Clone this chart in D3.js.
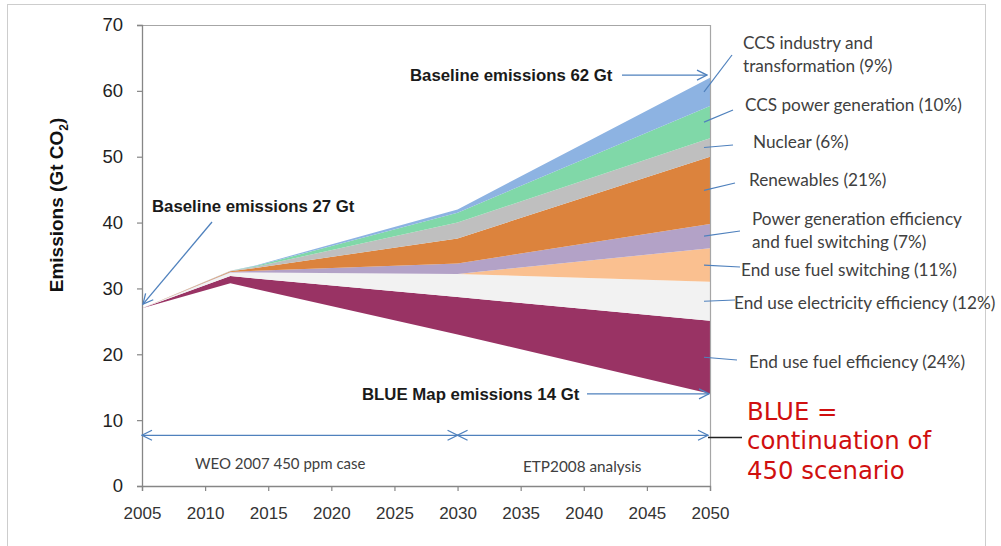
<!DOCTYPE html>
<html>
<head>
<meta charset="utf-8">
<script src="https://cdn.jsdelivr.net/npm/d3@7"></script>
<style>
  html, body { margin: 0; padding: 0; background: #ffffff; }
  svg { display: block; }
</style>
</head>
<body>
<svg id="chart" width="1001" height="546"></svg>
<script>
// ---- data (Gt CO2) ----
const years = [2005, 2012, 2014, 2030, 2050];
// remaining emissions under BLUE Map (base of the stack, not filled)
const blueMap = [27.0, 30.8, 29.9, 23.0, 14.0];
// reductions by measure, stacked above BLUE Map
const endUseFuelEff   = [0, 1.1, 1.6, 5.7, 11.1];
const endUseElecEff   = [0, 0.5, 0.9, 3.5, 5.9];
const endUseFuelSw    = [0, 0.0, 0.0, 0.0, 5.1];
const powerGenEff     = [0, 0.1, 0.3, 1.6, 3.7];
const renewables      = [0, 0.1, 0.4, 3.8, 10.2];
const nuclear         = [0, 0.1, 0.2, 2.4, 2.8];
const ccsPower        = [0, 0.0, 0.1, 1.5, 4.9];
const ccsIndustry     = [0, 0.0, 0.1, 0.5, 4.3];

const seriesKeys = ["blueMap", "endUseFuelEff", "endUseElecEff", "endUseFuelSw",
  "powerGenEff", "renewables", "nuclear", "ccsPower", "ccsIndustry"];
const seriesValues = { blueMap, endUseFuelEff, endUseElecEff, endUseFuelSw,
  powerGenEff, renewables, nuclear, ccsPower, ccsIndustry };
const seriesColors = {
  blueMap: "none", endUseFuelEff: "#993364", endUseElecEff: "#f2f2f2",
  endUseFuelSw: "#fac090", powerGenEff: "#b3a2c7", renewables: "#dc833d",
  nuclear: "#bfbfbf", ccsPower: "#80d8a8", ccsIndustry: "#8db3e2"
};
const seriesLabels = {
  ccsIndustry: ["CCS industry and", "transformation (9%)"],
  ccsPower: ["CCS power generation (10%)"],
  nuclear: ["Nuclear (6%)"],
  renewables: ["Renewables (21%)"],
  powerGenEff: ["Power generation efficiency", "and fuel switching (7%)"],
  endUseFuelSw: ["End use fuel switching (11%)"],
  endUseElecEff: ["End use electricity efficiency (12%)"],
  endUseFuelEff: ["End use fuel efficiency (24%)"]
};
// label anchor (left x, first-line centre y) for each measure
const labelPos = {
  ccsIndustry: [743, 43], ccsPower: [745, 105], nuclear: [753, 142],
  renewables: [749, 180], powerGenEff: [752, 219], endUseFuelSw: [741, 270],
  endUseElecEff: [734, 303], endUseFuelEff: [749, 362]
};
const labelLineStart = {
  ccsIndustry: [732, 55], ccsPower: [733, 110], nuclear: [733, 145],
  renewables: [735, 183], powerGenEff: [740, 231], endUseFuelSw: [740, 267],
  endUseElecEff: [735, 300], endUseFuelEff: [737, 360]
};

const xTicks = [2005, 2010, 2015, 2020, 2025, 2030, 2035, 2040, 2045, 2050];
const yTicks = [0, 10, 20, 30, 40, 50, 60, 70];

// ---- layout ----
const svg = d3.select("#chart");
const x = d3.scaleLinear().domain([2005, 2050]).range([142, 710]);
const y = d3.scaleLinear().domain([0, 70]).range([486, 25]);
const blue = "#4f81bd";
const gridGrey = "#868686";

// outer dotted frame
svg.append("rect")
  .attr("x", 7.5).attr("y", 4.5).attr("width", 978).attr("height", 570)
  .attr("fill", "none").attr("stroke", "#9a9a9a").attr("stroke-width", 1)
  .attr("stroke-dasharray", "1,1");

// arrow heads
const defs = svg.append("defs");
defs.append("marker").attr("id", "head")
  .attr("viewBox", "0 0 12 12").attr("refX", 11).attr("refY", 6)
  .attr("markerWidth", 12).attr("markerHeight", 12)
  .attr("markerUnits", "userSpaceOnUse").attr("orient", "auto-start-reverse")
  .append("path").attr("d", "M1,1 L11,6 L1,11")
  .attr("fill", "none").attr("stroke", blue).attr("stroke-width", 1.3);

// ---- stacked areas ----
const rows = years.map((yr, i) => {
  const r = { year: yr };
  seriesKeys.forEach(k => r[k] = seriesValues[k][i]);
  return r;
});
const stacked = d3.stack().keys(seriesKeys)(rows);
const area = d3.area()
  .x(d => x(d.data.year))
  .y0(d => y(d[0]))
  .y1(d => y(d[1]));

svg.append("g").selectAll("path")
  .data(stacked.filter(s => s.key !== "blueMap"))
  .join("path")
  .attr("d", area)
  .attr("fill", s => seriesColors[s.key]);

// ---- axes and plot frame ----
svg.append("line").attr("x1", 142).attr("x2", 710.5).attr("y1", 25.5).attr("y2", 25.5)
  .attr("stroke", "#a6a6a6").attr("stroke-width", 1.2);
svg.append("line").attr("x1", 710.5).attr("x2", 710.5).attr("y1", 25).attr("y2", 486)
  .attr("stroke", "#a6a6a6").attr("stroke-width", 1.2);

const yAxis = svg.append("g").attr("transform", "translate(142,0)")
  .call(d3.axisLeft(y).tickValues(yTicks).tickSize(5).tickPadding(14).tickFormat(d3.format("d")));
const xAxis = svg.append("g").attr("transform", "translate(0,486)")
  .call(d3.axisBottom(x).tickValues(xTicks).tickSize(5).tickPadding(16).tickFormat(d3.format("d")));
[yAxis, xAxis].forEach(g => {
  g.select(".domain").attr("stroke", gridGrey).attr("stroke-width", 1.3);
  g.selectAll(".tick line").attr("stroke", gridGrey).attr("stroke-width", 1.2);
  g.selectAll(".tick text")
    .attr("font-family", "'Liberation Sans', Arial, sans-serif")
    .attr("font-size", 17).attr("fill", "#333333");
});
yAxis.selectAll(".tick text").attr("font-size", 18.5).attr("fill", "#1f1f1f");

// y axis title
const yTitle = svg.append("text")
  .attr("transform", "translate(63,205) rotate(-90)")
  .attr("text-anchor", "middle")
  .attr("font-family", "'Liberation Sans', Arial, sans-serif")
  .attr("font-weight", "bold").attr("font-size", 19).attr("fill", "#111111");
yTitle.append("tspan").text("Emissions (Gt CO");
yTitle.append("tspan").attr("font-size", 12).attr("dy", 5).text("2");
yTitle.append("tspan").attr("dy", -5).text(")");

// ---- measure labels and leader lines ----
const tops2050 = {};
stacked.forEach(s => { tops2050[s.key] = s[s.length - 1]; });
Object.keys(seriesLabels).forEach(k => {
  const seg = tops2050[k];
  const mid = (seg[0] + seg[1]) / 2;
  svg.append("line")
    .attr("x1", labelLineStart[k][0]).attr("y1", labelLineStart[k][1])
    .attr("x2", x(2050) - 6).attr("y2", y(mid))
    .attr("stroke", blue).attr("stroke-width", 1.2);
  const t = svg.append("text")
    .attr("font-family", "Lato, 'Open Sans', sans-serif")
    .attr("font-size", 17.2).attr("fill", "#404040");
  seriesLabels[k].forEach((line, i) => {
    t.append("tspan").attr("x", labelPos[k][0])
      .attr("y", labelPos[k][1] + i * 22.5).attr("dy", "0.36em").text(line);
  });
});

// ---- bold annotations with arrows ----
const boldFont = "'Liberation Sans', Arial, sans-serif";
function boldNote(txt, tx, ty) {
  svg.append("text").attr("x", tx).attr("y", ty).attr("dy", "0.36em")
    .attr("font-family", boldFont).attr("font-weight", "bold")
    .attr("font-size", 16.8).attr("fill", "#1a1a1a").text(txt);
}
function arrow(x1, y1, x2, y2, both) {
  const l = svg.append("line").attr("x1", x1).attr("y1", y1).attr("x2", x2).attr("y2", y2)
    .attr("stroke", blue).attr("stroke-width", 1.3)
    .attr("marker-end", "url(#head)");
  if (both) l.attr("marker-start", "url(#head)");
}
boldNote("Baseline emissions 27 Gt", 152, 206);
arrow(212, 222, x(2005) + 1, y(27) - 4);
boldNote("Baseline emissions 62 Gt", 410, 75);
arrow(622, y(62.4), x(2050) - 3, y(62.4));
boldNote("BLUE Map emissions 14 Gt", 362, 394);
arrow(587, y(14), x(2050) - 1, y(14));

// period arrows
const periodY = y(7.7);
arrow(x(2005), periodY, x(2030), periodY, true);
arrow(x(2030), periodY, x(2050) - 2, periodY, true);
svg.append("text").attr("x", 195).attr("y", 464).attr("dy", "0.36em")
  .attr("font-family", "Lato, 'Open Sans', sans-serif").attr("font-size", 15)
  .attr("fill", "#404040").text("WEO 2007 450 ppm case");
svg.append("text").attr("x", 523).attr("y", 466).attr("dy", "0.36em")
  .attr("font-family", "Lato, 'Open Sans', sans-serif").attr("font-size", 15.3)
  .attr("fill", "#404040").text("ETP2008 analysis");

// red note
svg.append("line").attr("x1", 708).attr("x2", 742).attr("y1", 437.5).attr("y2", 437.5)
  .attr("stroke", "#222222").attr("stroke-width", 1.3);
const red = svg.append("text").attr("font-family", "'DejaVu Sans', Verdana, sans-serif")
  .attr("font-size", 24.4).attr("fill", "#d00f0f");
["BLUE =", "continuation of", "450 scenario"].forEach((line, i) => {
  red.append("tspan").attr("x", 747).attr("y", 411 + i * 29.5).attr("dy", "0.36em").text(line);
});
</script>
</body>
</html>
